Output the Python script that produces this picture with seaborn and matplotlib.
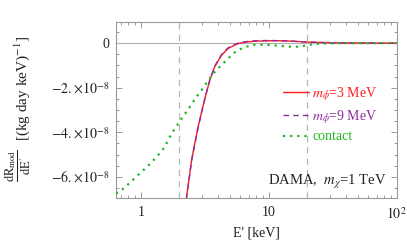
import numpy as np
import pandas as pd
import matplotlib
matplotlib.use("Agg")
import matplotlib.pyplot as plt
import seaborn as sns
from matplotlib.ticker import FixedLocator, LogLocator, NullFormatter

# ---- data (values in units of 1e-8) ----
E_m3 = [2.15, 2.27, 2.5, 2.77, 2.98, 3.2, 3.46, 3.78, 4.27, 4.81, 5.59, 6.3, 6.89, 7.8, 10.0, 12.0, 15.0, 20.0, 30.0, 50.0, 100.0]
R_m3 = [-8.2, -6.95, -5.2, -3.9, -3.1, -2.38, -1.66, -1.06, -0.54, -0.24, -0.045, 0.03, 0.06, 0.09, 0.11, 0.11, 0.09, 0.05, 0.02, 0.005, 0.0]

E_m9 = [2.15, 2.27, 2.5, 2.77, 2.98, 3.2, 3.46, 3.78, 4.27, 4.81, 5.59, 6.3, 6.89, 7.8, 10.0, 12.0, 15.0, 20.0, 30.0, 50.0, 100.0]
R_m9 = [-8.3, -7.0, -5.25, -3.93, -3.12, -2.38, -1.64, -1.03, -0.51, -0.21, -0.02, 0.05, 0.08, 0.11, 0.12, 0.11, 0.09, 0.05, 0.02, 0.005, 0.0]

E_ct = [0.64, 0.707, 0.773, 0.846, 0.925, 1.04, 1.18, 1.29, 1.41, 1.54, 1.685, 1.81, 1.98, 2.14, 2.34, 2.53, 2.75, 3.01, 3.26, 3.56, 3.89, 4.34, 4.81, 5.32, 6.26, 7.5, 10.2, 13.8, 17.5, 20.8, 25.0, 35.0, 100.0]
R_ct = [-6.75, -6.6, -6.4, -6.2, -5.98, -5.72, -5.42, -5.18, -4.93, -4.66, -4.2, -3.91, -3.58, -3.28, -2.98, -2.68, -2.38, -2.08, -1.78, -1.48, -1.21, -0.94, -0.69, -0.44, -0.21, -0.07, -0.08, -0.15, -0.16, -0.07, -0.02, 0.0, 0.0]

labels = [r"$m_\phi$=3 MeV", r"$m_\phi$=9 MeV", "contact"]
colors = ["#ff1a1a", "#8e2c9e", "#22b822"]

yticks = [0, -2, -4, -6]
ytick_labels = ["0", r"$-2.\!\times\!10^{-8}$", r"$-4.\!\times\!10^{-8}$", r"$-6.\!\times\!10^{-8}$"]
xticks = [1, 10, 100]
xtick_labels = ["1", "10", r"$10^2$"]

sns.set_style("ticks")
plt.rcParams["font.family"] = ["Liberation Serif", "DejaVu Serif"]
plt.rcParams["mathtext.fontset"] = "stix"

W, H = 407, 248
fig = plt.figure(figsize=(W / 100, H / 100), dpi=100)
ax = fig.add_axes([0.285, 0.2016, 0.690, 0.7097])

gray = "#9a9a9a"
txt = "#222222"
ax.axhline(0, color="#b0b0b0", lw=0.8, zorder=1)
for xv in [2, 20]:
    ax.axvline(xv, color="#b5b5b5", lw=0.9, ls=(0, (5, 4)), zorder=1)

df3 = pd.DataFrame({"E": E_m3, "R": np.array(R_m3) * 1e-8})
df9 = pd.DataFrame({"E": E_m9, "R": np.array(R_m9) * 1e-8})
dfc = pd.DataFrame({"E": E_ct, "R": np.array(R_ct) * 1e-8})

sns.lineplot(data=df3, x="E", y="R", ax=ax, color=colors[0], lw=1.0, label=labels[0], zorder=3)
sns.lineplot(data=df9, x="E", y="R", ax=ax, color=colors[1], lw=1.0, ls=(0, (4, 3)), label=labels[1], zorder=4)
sns.lineplot(data=dfc, x="E", y="R", ax=ax, color=colors[2], lw=1.6, ls=(0, (1, 2.2)), label=labels[2], zorder=5)

ax.set_xscale("log")
ax.set_xlim(0.64, 100)
ax.set_ylim(-6.95e-8, 0.95e-8)

ax.set_xticks(xticks)
ax.set_xticklabels(xtick_labels)
ax.xaxis.set_minor_locator(LogLocator(base=10, subs=np.arange(2, 10)))
ax.xaxis.set_minor_formatter(NullFormatter())
ax.set_yticks([v * 1e-8 for v in yticks])
ax.set_yticklabels(ytick_labels)
ax.yaxis.set_minor_locator(FixedLocator([v * 1e-8 for v in np.arange(-6.5, 1.0, 0.5)]))

for s in ax.spines.values():
    s.set_color(gray)
    s.set_linewidth(0.8)
ax.tick_params(which="both", direction="in", top=True, right=True, color=gray, width=0.7, labelsize=10, labelcolor=txt)
ax.tick_params(axis="y", pad=5)
ax.tick_params(axis="x", pad=6)
ax.tick_params(which="major", length=4)
ax.tick_params(which="minor", length=2.2)

ax.set_xlabel("E' [keV]", fontsize=10, color=txt, labelpad=3)
ax.set_ylabel("")

# y-axis label: unit part and fraction part
fig.text(22 / W, 1 - 88 / H, r"[(kg day keV)$^{-1}$]", rotation=90, ha="center", va="center",
         fontsize=11, color=txt)
fig.text(18 / W, 1 - 166 / H, r"$\dfrac{\mathrm{dR_{mod}}}{\mathrm{dE'}}$", rotation=90, ha="center", va="center",
         fontsize=9, color=txt)

leg = ax.legend(loc="upper left", bbox_to_anchor=(0.57, 0.68), frameon=False, fontsize=10,
                handlelength=1.9, handletextpad=0.2, labelspacing=0.35, borderpad=0)
for t, c in zip(leg.get_texts(), colors):
    t.set_color(c)

ax.text(0.965, 0.09, r"DAMA,  $m_\chi$=1 TeV", transform=ax.transAxes, ha="right", va="center",
        fontsize=10.5, color=txt)

fig.savefig("out.png", dpi=100)
